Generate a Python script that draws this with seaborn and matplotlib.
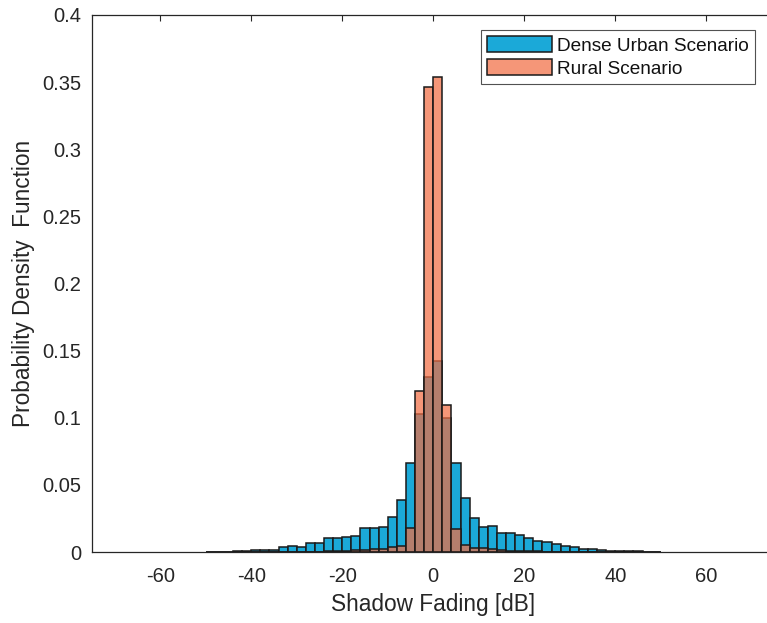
import numpy as np
import pandas as pd
import matplotlib
matplotlib.use("Agg")
import matplotlib.pyplot as plt
import seaborn as sns

# ---- data ----
bin_edges = list(range(-50, 52, 2))
bin_centers = list(range(-49, 50, 2))

urban_pdf = [0.0001, 0.0001, 0.0002, 0.0007, 0.0010, 0.0015, 0.0017, 0.0015,
             0.0040, 0.0047, 0.0035, 0.0068, 0.0065, 0.0102, 0.0104, 0.0109,
             0.0122, 0.0176, 0.0178, 0.0186, 0.0263, 0.0390, 0.0665, 0.1025,
             0.1300, 0.1420, 0.0996, 0.0660, 0.0400, 0.0256, 0.0183, 0.0194,
             0.0142, 0.0139, 0.0123, 0.0103, 0.0081, 0.0072, 0.0057, 0.0047,
             0.0037, 0.0020, 0.0020, 0.0015, 0.0009, 0.0007, 0.0006, 0.0005,
             0.0002, 0.0001]

rural_pdf = [0.0, 0.0, 0.0, 0.0, 0.0, 0.0, 0.0, 0.0001,
             0.0001, 0.0001, 0.0002, 0.0002, 0.0003, 0.0004, 0.0006, 0.0008,
             0.0018, 0.0012, 0.0020, 0.0025, 0.0040, 0.0047, 0.0176, 0.1200,
             0.3460, 0.3536, 0.1095, 0.0171, 0.0052, 0.0032, 0.0027, 0.0020,
             0.0014, 0.0009, 0.0007, 0.0005, 0.0004, 0.0003, 0.0002, 0.0001,
             0.0001, 0.0001, 0.0, 0.0, 0.0, 0.0, 0.0, 0.0,
             0.0, 0.0]

series_names = ["Dense Urban Scenario", "Rural Scenario"]
x_ticks = [-60, -40, -20, 0, 20, 40, 60]
y_ticks = [0, 0.05, 0.1, 0.15, 0.2, 0.25, 0.3, 0.35, 0.4]

# ---- style ----
sns.set_style("white")
plt.rcParams["font.family"] = ["Liberation Sans", "DejaVu Sans"]
axis_grey = "#262626"

fig = plt.figure(figsize=(7.67, 6.23), dpi=100)
# axes spans x from -75..75; right part is clipped by the figure edge as in the reference
ax = fig.add_axes([92 / 767, 71 / 623, 682.5 / 767, 537 / 623])

df_u = pd.DataFrame({"x": bin_centers, "w": urban_pdf})
df_r = pd.DataFrame({"x": bin_centers, "w": rural_pdf})

sns.histplot(data=df_u, x="x", weights="w", bins=bin_edges, stat="count",
             color="#1BA9D8", alpha=1.0, edgecolor="#1a1a1a", linewidth=1.1,
             ax=ax, label=series_names[0])
sns.histplot(data=df_r, x="x", weights="w", bins=bin_edges, stat="count",
             color="#F26E44", alpha=0.72, edgecolor="#1a1a1a", linewidth=1.1,
             ax=ax, label=series_names[1])

ax.set_xlim(-75, 75)
ax.set_ylim(0, 0.4)
ax.set_xticks(x_ticks)
ax.set_xticklabels([f"{v:g}" for v in x_ticks])
ax.set_yticks(y_ticks)
ax.set_yticklabels([f"{v:g}" for v in y_ticks])

ax.tick_params(direction="in", length=4, width=0.8, colors=axis_grey,
               labelsize=14.5, top=True, right=True)
ax.tick_params(axis="x", pad=11)
ax.tick_params(axis="y", pad=8)
for s in ax.spines.values():
    s.set_color(axis_grey)
    s.set_linewidth(0.9)

ax.set_xlabel("Shadow Fading [dB]", fontsize=16.3, color=axis_grey, labelpad=5)
ax.set_ylabel("Probability Density  Function", fontsize=16.3, color=axis_grey, labelpad=5)

leg = ax.legend(loc="upper right", bbox_to_anchor=(0.971, 0.972), borderaxespad=0,
                fontsize=13.7, frameon=True, fancybox=False, handlelength=3.4,
                handleheight=0.9, handletextpad=0.25, borderpad=0.32,
                labelspacing=0.25)
leg.get_frame().set_edgecolor(axis_grey)
leg.get_frame().set_linewidth(0.8)
for t in leg.get_texts():
    t.set_color("#111111")

fig.savefig("out.png", dpi=100)
